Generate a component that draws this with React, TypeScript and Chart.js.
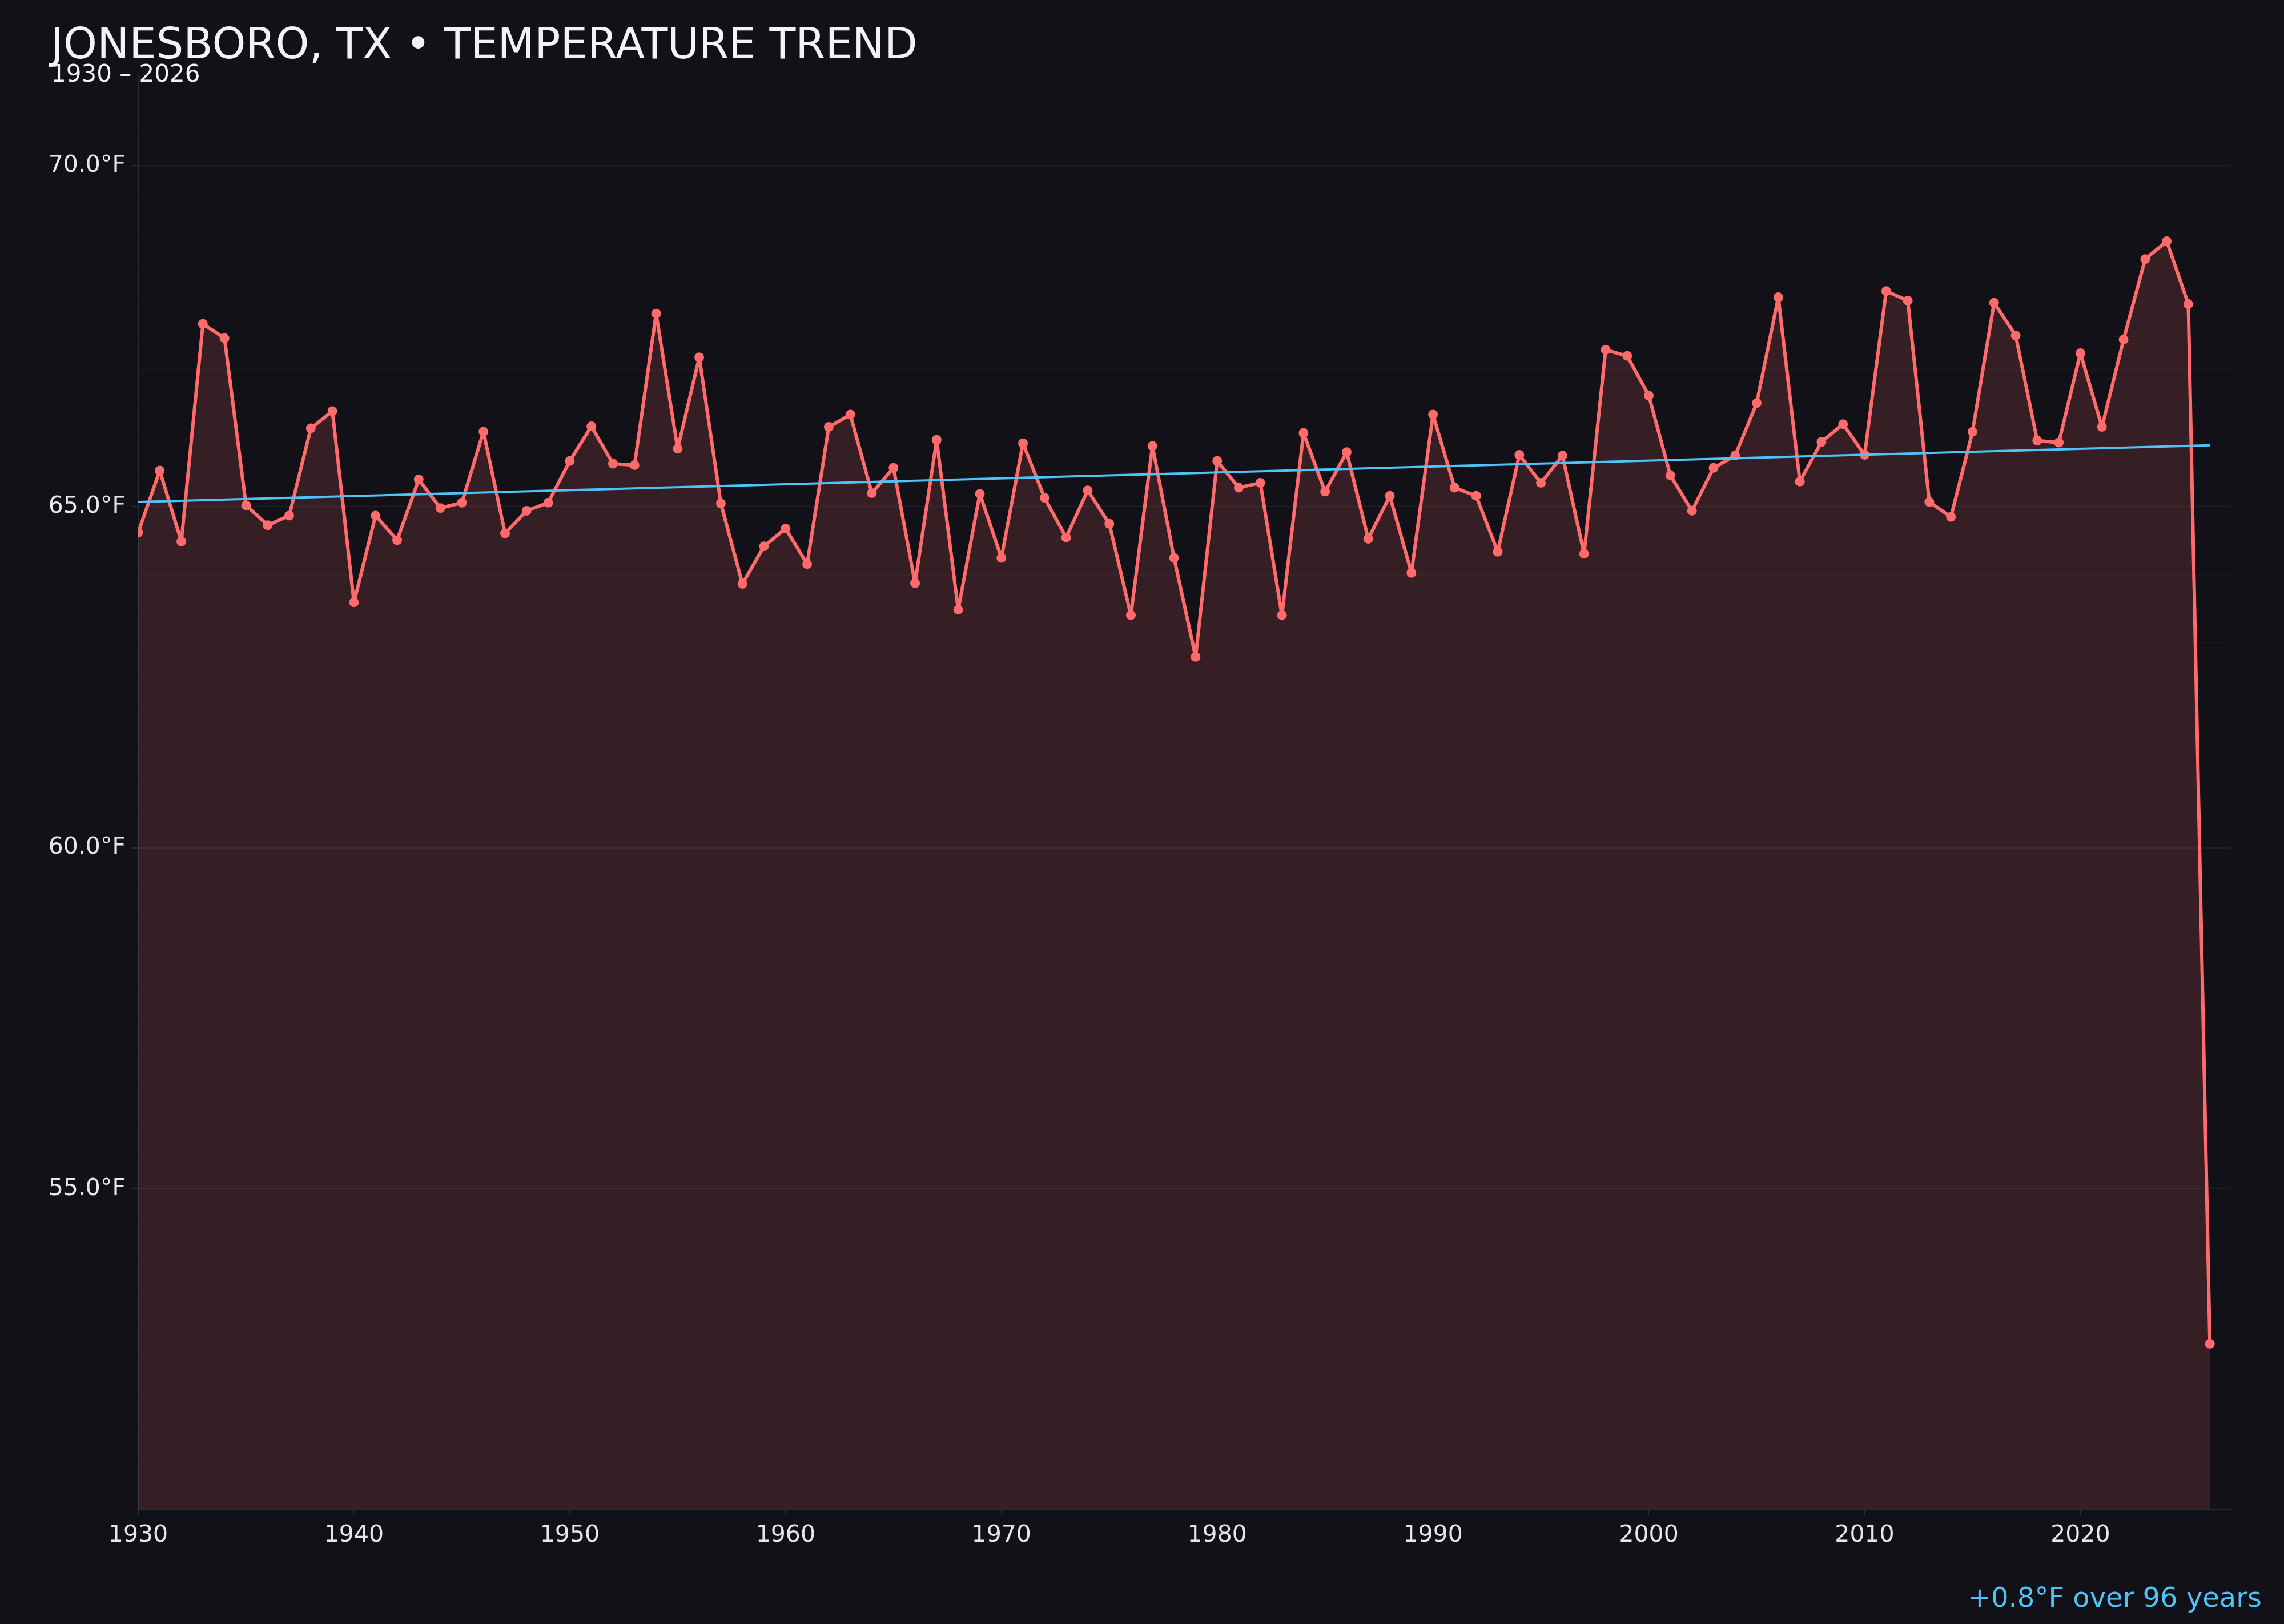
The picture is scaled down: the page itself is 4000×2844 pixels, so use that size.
import { useEffect, useRef } from "react";
import Chart from "chart.js/auto";
import type { ChartConfiguration, Plugin } from "chart.js/auto";

// annual mean temperature, Jonesboro TX
const years = [
  1930, 1931, 1932, 1933, 1934, 1935, 1936, 1937, 1938, 1939,
  1940, 1941, 1942, 1943, 1944, 1945, 1946, 1947, 1948, 1949,
  1950, 1951, 1952, 1953, 1954, 1955, 1956, 1957, 1958, 1959,
  1960, 1961, 1962, 1963, 1964, 1965, 1966, 1967, 1968, 1969,
  1970, 1971, 1972, 1973, 1974, 1975, 1976, 1977, 1978, 1979,
  1980, 1981, 1982, 1983, 1984, 1985, 1986, 1987, 1988, 1989,
  1990, 1991, 1992, 1993, 1994, 1995, 1996, 1997, 1998, 1999,
  2000, 2001, 2002, 2003, 2004, 2005, 2006, 2007, 2008, 2009,
  2010, 2011, 2012, 2013, 2014, 2015, 2016, 2017, 2018, 2019,
  2020, 2021, 2022, 2023, 2024, 2025, 2026,
];

const temps = [
  64.62, 65.53, 64.49, 67.68, 67.47, 65.02, 64.73, 64.87, 66.15, 66.4,
  63.6, 64.87, 64.51, 65.4, 64.98, 65.06, 66.1, 64.61, 64.94, 65.06,
  65.67, 66.18, 65.63, 65.61, 67.83, 65.85, 67.19, 65.05, 63.87, 64.42,
  64.68, 64.16, 66.17, 66.35, 65.2, 65.57, 63.88, 65.98, 63.49, 65.19,
  64.25, 65.93, 65.13, 64.55, 65.24, 64.75, 63.41, 65.89, 64.25, 62.8,
  65.67, 65.28, 65.35, 63.41, 66.08, 65.22, 65.8, 64.53, 65.16, 64.03,
  66.35, 65.28, 65.16, 64.34, 65.76, 65.35, 65.75, 64.31, 67.3, 67.21,
  66.63, 65.46, 64.94, 65.57, 65.75, 66.52, 68.07, 65.37, 65.95, 66.21,
  65.76, 68.16, 68.02, 65.07, 64.85, 66.1, 67.99, 67.51, 65.97, 65.94,
  67.25, 66.17, 67.45, 68.63, 68.89, 67.97, 52.73,
];

const trendYears = [1930, 2026];
const trendTemps = [65.07, 65.9];

const title = "JONESBORO, TX • TEMPERATURE TREND";
const subtitle = "1930 – 2026";
const trendNote = "+0.8°F over 96 years";

const BG = "#121118";
const RED = "#ff6b6b";
const BLUE = "#4fc3f7";
const FONT = "'DejaVu Sans', sans-serif";

const isMultiple = (v: number, step: number) =>
  Math.abs(v / step - Math.round(v / step)) < 1e-6;

const textPlugin: Plugin<"line"> = {
  id: "texts",
  afterDraw(chart) {
    const { ctx } = chart;
    ctx.save();
    ctx.textBaseline = "alphabetic";
    ctx.fillStyle = "#f2f2f7";
    ctx.textAlign = "left";
    ctx.font = `75px ${FONT}`;
    ctx.fillText(title, 89, 102);
    ctx.font = `42px ${FONT}`;
    ctx.fillText(subtitle, 89, 143);
    ctx.fillStyle = BLUE;
    ctx.textAlign = "right";
    ctx.font = `48px ${FONT}`;
    ctx.fillText(trendNote, 3961, 2814);
    ctx.restore();
  },
};

const App = () => {
  const canvasRef = useRef<HTMLCanvasElement | null>(null);

  useEffect(() => {
    document.body.style.margin = "0";
    document.body.style.background = BG;
    const ctx = canvasRef.current?.getContext("2d");
    if (!ctx) return;

    const lo = Math.min(...temps);
    const hi = Math.max(...temps);
    const pad = (hi - lo) * 0.15;

    const config: ChartConfiguration<"line", { x: number; y: number }[], number> = {
      type: "line",
      data: {
        datasets: [
          {
            label: "trend",
            data: trendYears.map((x, i) => ({ x, y: trendTemps[i] })),
            borderColor: BLUE,
            borderWidth: 4,
            pointRadius: 0,
            fill: false,
            tension: 0,
          },
          {
            label: "temp",
            data: years.map((x, i) => ({ x, y: temps[i] })),
            borderColor: RED,
            backgroundColor: "rgba(255,107,107,0.15)",
            borderWidth: 6,
            borderJoinStyle: "round",
            borderCapStyle: "round",
            pointRadius: 8.5,
            pointBorderWidth: 0,
            pointBackgroundColor: RED,
            fill: "start",
            tension: 0,
          },
        ],
      },
      options: {
        responsive: false,
        animation: false,
        devicePixelRatio: 1,
        layout: { padding: { top: 133, right: 92, bottom: 81, left: 0 } },
        plugins: {
          legend: { display: false },
          tooltip: { enabled: false },
        },
        scales: {
          x: {
            type: "linear",
            min: 1930,
            max: 2027,
            afterFit: (scale) => {
              scale.height = 120;
            },
            border: { display: true, color: "#2b2b35", width: 2 },
            grid: {
              drawOnChartArea: false,
              drawTicks: true,
              tickLength: 10,
              tickColor: (c) =>
                isMultiple(c.tick.value, 10) ? "#2b2b35" : "rgba(0,0,0,0)",
            },
            ticks: {
              stepSize: 10,
              autoSkip: false,
              maxRotation: 0,
              padding: 12,
              color: "#e6e6ee",
              font: { family: FONT, size: 41 },
              callback: (v) => (isMultiple(Number(v), 10) ? String(v) : ""),
            },
          },
          y: {
            min: lo - pad,
            max: hi + pad,
            afterFit: (scale) => {
              scale.width = 242;
            },
            border: { display: true, color: "#2b2b35", width: 2 },
            grid: {
              drawTicks: true,
              tickLength: 10,
              lineWidth: 2,
              color: (c) => {
                const v = c.tick.value;
                if (isMultiple(v, 5)) return "rgba(255,255,255,0.06)";
                if (isMultiple(v, 0.5)) return "rgba(255,255,255,0.022)";
                return "rgba(0,0,0,0)";
              },
              tickColor: (c) =>
                isMultiple(c.tick.value, 5) ? "#2b2b35" : "rgba(0,0,0,0)",
            },
            ticks: {
              stepSize: 0.5,
              autoSkip: false,
              padding: 12,
              color: "#e6e6ee",
              font: { family: FONT, size: 41 },
              callback: (v) =>
                isMultiple(Number(v), 5) ? `${Number(v).toFixed(1)}°F` : "",
            },
          },
        },
      },
      plugins: [textPlugin],
    };

    const chart = new Chart(ctx, config);
    return () => chart.destroy();
  }, []);

  return (
    <div style={{ width: 4000, height: 2844, background: BG }}>
      <canvas
        ref={canvasRef}
        width={4000}
        height={2844}
        style={{ width: 4000, height: 2844, display: "block" }}
      />
    </div>
  );
};

export default App;
